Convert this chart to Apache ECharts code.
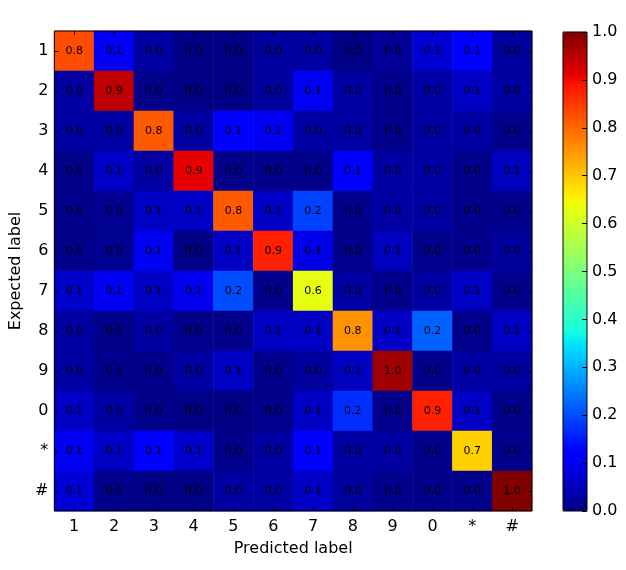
<!DOCTYPE html>
<html>
<head>
<meta charset="utf-8">
<script src="https://cdn.jsdelivr.net/npm/echarts@6/dist/echarts.min.js"></script>
<style>
html,body{margin:0;padding:0;background:#fff;}
#chart{width:626px;height:570px;}
</style>
</head>
<body>
<div id="chart"></div>
<script>
const predictedLabels = ['1','2','3','4','5','6','7','8','9','0','*','#'];
const expectedLabels  = ['1','2','3','4','5','6','7','8','9','0','*','#'];
const colorbarTicks = [0,0.1,0.2,0.3,0.4,0.5,0.6,0.7,0.8,0.9,1.0];

// rows: expected label, columns: predicted label
const row1    = [0.83,0.10,0.03,0.005,0.005,0.025,0.03,0.005,0.02,0.07,0.11,0.025];
const row2    = [0.03,0.945,0.01,0.005,0.005,0.025,0.10,0.03,0.01,0.03,0.06,0.03];
const row3    = [0.03,0.03,0.815,0.03,0.11,0.10,0.03,0.03,0.01,0.03,0.03,0.01];
const row4    = [0.01,0.06,0.03,0.91,0.01,0.01,0.01,0.11,0.03,0.03,0.01,0.055];
const row5    = [0.01,0.015,0.06,0.06,0.815,0.06,0.19,0.01,0.03,0.03,0.01,0.01];
const row6    = [0.01,0.015,0.10,0.005,0.06,0.876,0.09,0.01,0.055,0.01,0.01,0.025];
const row7    = [0.065,0.10,0.06,0.095,0.20,0.01,0.63,0.03,0.01,0.03,0.06,0.01];
const row8    = [0.03,0.01,0.03,0.01,0.01,0.06,0.06,0.755,0.06,0.22,0.01,0.06];
const row9    = [0.03,0.01,0.01,0.03,0.06,0.01,0.025,0.055,0.972,0.01,0.03,0.03];
const row0    = [0.06,0.03,0.01,0.005,0.005,0.01,0.06,0.17,0.01,0.876,0.06,0.01];
const rowStar = [0.10,0.06,0.12,0.065,0.01,0.03,0.11,0.03,0.03,0.01,0.69,0.01];
const rowHash = [0.075,0.01,0.005,0.005,0.03,0.03,0.06,0.025,0.01,0.01,0.01,1.0];
const matrix = [row1,row2,row3,row4,row5,row6,row7,row8,row9,row0,rowStar,rowHash];

const data = [];
matrix.forEach((row, i) => row.forEach((v, j) => data.push([j, i, v])));

// jet colormap
function interp(v, pts){
  for (let k = 1; k < pts.length; k++){
    if (v <= pts[k][0]){
      const t = (v - pts[k-1][0]) / (pts[k][0] - pts[k-1][0]);
      return pts[k-1][1] + t * (pts[k][1] - pts[k-1][1]);
    }
  }
  return pts[pts.length-1][1];
}
function jet(v){
  const r = interp(v, [[0,0],[0.35,0],[0.66,1],[0.89,1],[1,0.5]]);
  const g = interp(v, [[0,0],[0.125,0],[0.375,1],[0.64,1],[0.91,0],[1,0]]);
  const b = interp(v, [[0,0.5],[0.11,1],[0.34,1],[0.65,0],[1,0]]);
  const h = x => Math.round(x*255).toString(16).padStart(2,'0');
  return '#' + h(r) + h(g) + h(b);
}
const jetColors = [];
for (let k = 0; k <= 200; k++) jetColors.push(jet(k/200));

const FONT = 'DejaVu Sans';
const chart = echarts.init(document.getElementById('chart'));
chart.setOption({
  backgroundColor: '#fff',
  animation: false,
  textStyle: { fontFamily: FONT },
  grid: [
    { left: 52, top: 31, width: 480, height: 480, show: true, z: 10,
      backgroundColor: 'transparent', borderColor: '#000', borderWidth: 1 },
    { left: 563, top: 32, width: 24, height: 479, show: true, z: 10,
      backgroundColor: 'transparent', borderColor: '#000', borderWidth: 1 }
  ],
  xAxis: [
    { type: 'category', gridIndex: 0, data: predictedLabels, position: 'bottom',
      name: 'Predicted label', nameLocation: 'middle', nameGap: 30,
      nameTextStyle: { fontSize: 16, color: '#000', fontFamily: FONT },
      axisLine: { show: false, onZero: false },
      axisTick: { show: true, inside: true, alignWithLabel: true, length: 4, lineStyle: { color: '#000' } },
      axisLabel: { fontSize: 16, color: '#000', margin: 8, fontFamily: FONT },
      splitLine: { show: false }, z: 10 },
    { type: 'category', gridIndex: 0, data: predictedLabels, position: 'top',
      axisLine: { show: false, onZero: false },
      axisTick: { show: true, inside: true, alignWithLabel: true, length: 4, lineStyle: { color: '#000' } },
      axisLabel: { show: false }, splitLine: { show: false }, z: 10 },
    { type: 'value', gridIndex: 1, show: false, min: 0, max: 1, axisLine: { onZero: false } }
  ],
  yAxis: [
    { type: 'category', gridIndex: 0, data: expectedLabels, inverse: true, position: 'left',
      name: 'Expected label', nameLocation: 'middle', nameGap: 23, nameRotate: 90,
      nameTextStyle: { fontSize: 16, color: '#000', fontFamily: FONT },
      axisLine: { show: false, onZero: false },
      axisTick: { show: true, inside: true, alignWithLabel: true, length: 4, lineStyle: { color: '#000' } },
      axisLabel: { fontSize: 16, color: '#000', margin: 6, fontFamily: FONT },
      splitLine: { show: false }, z: 10 },
    { type: 'category', gridIndex: 0, data: expectedLabels, inverse: true, position: 'right',
      axisLine: { show: false, onZero: false },
      axisTick: { show: true, inside: true, alignWithLabel: true, length: 4, lineStyle: { color: '#000' } },
      axisLabel: { show: false }, splitLine: { show: false }, z: 10 },
    { type: 'value', gridIndex: 1, min: 0, max: 1, interval: 0.1, position: 'right',
      axisLine: { show: false, onZero: false },
      axisTick: { show: true, inside: true, length: 5, lineStyle: { color: '#000', width: 1 } },
      axisLabel: { fontSize: 16, color: '#000', margin: 5, fontFamily: FONT,
        formatter: v => colorbarTicks.includes(Math.round(v*10)/10) ? v.toFixed(1) : '' },
      splitLine: { show: false }, z: 20, zlevel: 1 }
  ],
  visualMap: {
    type: 'continuous', min: 0, max: 1, seriesIndex: 0,
    calculable: false, orient: 'vertical',
    left: 563, top: 32, itemWidth: 24, itemHeight: 479, padding: 0,
    text: null, showLabel: false, hoverLink: false,
    inRange: { color: jetColors }
  },
  series: [{
    type: 'heatmap', xAxisIndex: 0, yAxisIndex: 0, data: data,
    label: { show: true, color: '#000', fontSize: 11, fontFamily: FONT,
      formatter: p => p.value[2].toFixed(1) },
    itemStyle: { borderWidth: 0 },
    emphasis: { disabled: true }
  }]
});
</script>
</body>
</html>
